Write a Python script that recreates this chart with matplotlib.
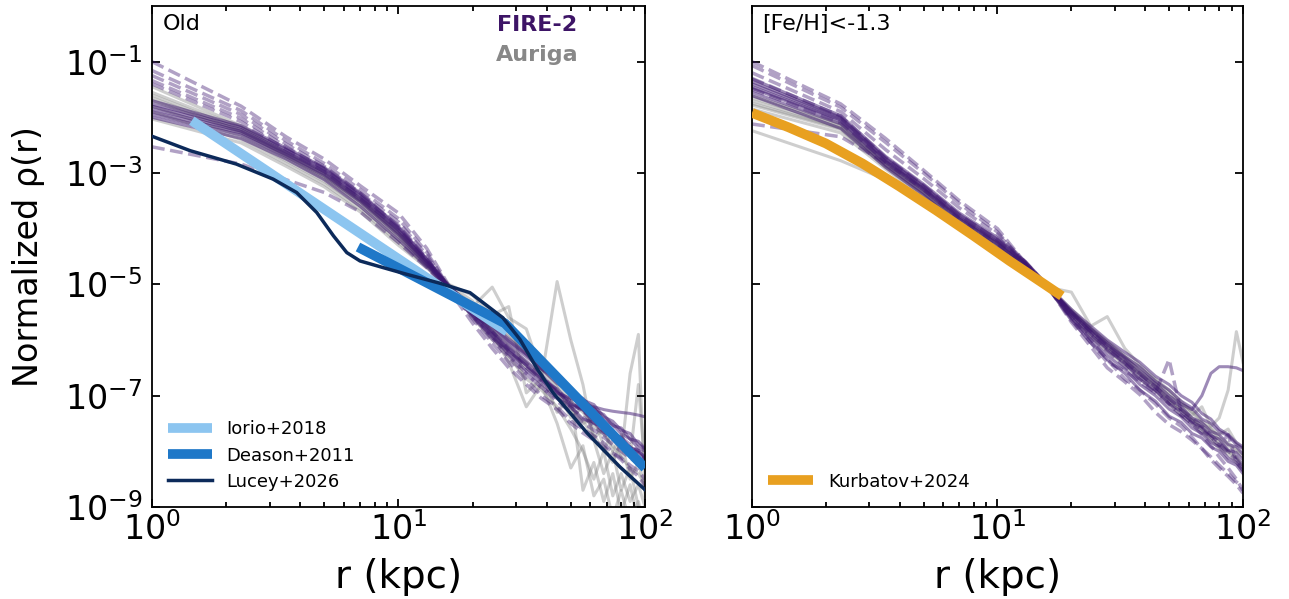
import numpy as np
import matplotlib
matplotlib.use("Agg")
import matplotlib.pyplot as plt

# ── data (log10 of normalized density on a common radial grid) ──────────────
r_grid = [1, 2.3, 3.5, 5, 7, 10, 13, 16, 20, 24, 28, 33, 38, 44, 50, 56,
          62, 68, 74, 80, 87, 94, 100]

# Old stars panel
old_fire_solid = [
    [-1.76, -2.18, -2.58, -2.92, -3.38, -3.98, -4.55, -5.05, -5.45, -5.78, -6.05, -6.30,
     -6.52, -6.78, -6.92, -7.14, -7.22, -7.44, -7.52, -7.68, -7.78, -7.94, -8.00],
    [-1.85, -2.25, -2.64, -2.98, -3.45, -4.04, -4.60, -5.06, -5.50, -5.85, -6.12, -6.38,
     -6.62, -6.95, -7.05, -7.15, -7.20, -7.25, -7.28, -7.30, -7.32, -7.35, -7.38],
    [-1.95, -2.32, -2.70, -3.05, -3.52, -4.12, -4.64, -5.08, -5.55, -5.92, -6.20, -6.45,
     -6.70, -6.88, -7.15, -7.24, -7.44, -7.52, -7.70, -7.74, -7.94, -7.98, -8.12],
    [-2.00, -2.38, -2.75, -3.12, -3.60, -4.20, -4.68, -5.10, -5.58, -5.95, -6.25, -6.55,
     -6.78, -7.04, -7.20, -7.42, -7.48, -7.66, -7.72, -7.90, -7.92, -8.12, -8.20],
    [-1.80, -2.22, -2.62, -2.96, -3.42, -4.02, -4.58, -5.04, -5.40, -5.72, -5.98, -6.24,
     -6.42, -6.70, -6.86, -7.08, -7.16, -7.38, -7.46, -7.62, -7.68, -7.88, -7.95],
    [-1.90, -2.28, -2.67, -3.02, -3.49, -4.08, -4.62, -5.07, -5.52, -5.88, -6.18, -6.46,
     -6.72, -6.92, -7.18, -7.26, -7.50, -7.56, -7.76, -7.80, -7.98, -8.02, -8.15],
    [-1.70, -2.15, -2.55, -2.90, -3.36, -3.96, -4.54, -5.03, -5.42, -5.75, -6.02, -6.26,
     -6.52, -6.70, -6.94, -7.05, -7.25, -7.34, -7.54, -7.58, -7.78, -7.82, -7.95],
]
old_fire_dashed = [
    [-1.00, -1.80, -2.35, -2.75, -3.23, -3.72, -4.35, -5.02, -5.48, -5.85, -6.15, -6.42,
     -6.65, -6.90, -7.10, -7.25, -7.40, -7.52, -7.65, -7.75, -7.88, -8.00, -8.10],
    [-1.16, -1.88, -2.42, -2.83, -3.30, -3.82, -4.42, -5.05, -5.55, -5.95, -6.28, -6.60,
     -6.85, -7.10, -7.30, -7.48, -7.62, -7.75, -7.88, -8.00, -8.12, -8.22, -8.35],
    [-1.25, -1.95, -2.48, -2.88, -3.36, -3.88, -4.47, -5.05, -5.62, -6.05, -6.40, -6.71,
     -7.00, -7.20, -7.45, -7.60, -7.72, -7.85, -8.03, -8.15, -8.32, -8.45, -8.62],
    [-1.34, -2.02, -2.53, -2.93, -3.42, -3.94, -4.52, -5.06, -5.50, -5.85, -6.18, -6.50,
     -6.72, -6.95, -7.12, -7.28, -7.42, -7.55, -7.68, -7.80, -7.92, -8.02, -8.12],
    [-2.53, -2.84, -3.12, -3.35, -3.70, -4.25, -4.70, -5.10, -5.70, -6.15, -6.50, -6.80,
     -7.05, -7.25, -7.50, -7.67, -7.80, -7.92, -8.03, -8.12, -8.25, -8.35, -8.50],
    [-1.40, -2.08, -2.58, -2.98, -3.46, -4.00, -4.56, -5.05, -5.58, -5.98, -6.32, -6.62,
     -6.85, -7.05, -7.22, -7.38, -7.55, -7.68, -7.80, -7.92, -8.05, -8.20, -8.30],
]
old_auriga = [
    [-1.45, -2.15, -2.62, -3.00, -3.45, -4.05, -4.58, -5.00, -5.20, -5.55, -5.40, -6.95,
     -6.70, -4.95, -6.00, -6.80, -7.80, -8.40, -8.00, -8.70, -8.30, -9.00, -9.20],
    [-1.60, -2.22, -2.68, -3.06, -3.50, -4.10, -4.62, -5.02, -5.40, -5.05, -5.60, -5.80,
     -6.60, -7.30, -7.00, -8.70, -8.20, -8.90, -8.40, -9.10, -8.60, -9.30, -9.50],
    [-1.70, -2.28, -2.73, -3.10, -3.55, -4.15, -4.64, -5.03, -5.60, -6.00, -6.20, -6.50,
     -6.70, -6.90, -7.40, -7.20, -7.70, -8.00, -7.60, -8.10, -6.60, -5.90, -8.80],
    [-1.80, -2.34, -2.78, -3.15, -3.60, -4.20, -4.66, -5.04, -5.50, -5.80, -6.30, -6.70,
     -6.90, -7.20, -7.60, -8.00, -8.50, -8.00, -8.80, -8.40, -8.90, -8.60, -9.00],
    [-1.90, -2.40, -2.83, -3.20, -3.65, -4.25, -4.68, -5.05, -5.45, -5.70, -5.95, -6.20,
     -6.50, -6.80, -7.10, -7.30, -7.55, -7.70, -7.90, -8.10, -8.30, -8.40, -8.60],
    [-2.03, -2.46, -2.88, -3.25, -3.70, -4.30, -4.70, -5.06, -5.35, -5.65, -5.90, -6.25,
     -6.55, -6.85, -7.25, -7.50, -7.40, -7.90, -8.20, -7.80, -8.50, -8.20, -8.70],
    [-1.55, -2.18, -2.65, -3.03, -3.48, -4.08, -4.60, -5.01, -5.30, -5.90, -6.40, -7.20,
     -6.80, -7.50, -8.30, -7.90, -8.80, -8.50, -9.20, -8.70, -9.30, -8.90, -9.40],
    [-1.65, -2.25, -2.70, -3.08, -3.52, -4.12, -4.63, -5.02, -5.50, -5.80, -6.10, -6.40,
     -6.65, -6.95, -7.20, -7.45, -7.75, -7.60, -8.00, -7.70, -8.10, -6.80, -8.30],
]

# Metal-poor panel
mp_fire_solid = [
    [-1.31, -1.97, -2.70, -3.20, -3.72, -4.16, -4.59, -5.02, -5.45, -5.75, -6.00, -6.22,
     -6.40, -6.65, -6.80, -7.00, -7.12, -7.32, -7.42, -7.60, -7.70, -7.84, -7.92],
    [-1.40, -2.02, -2.75, -3.25, -3.78, -4.22, -4.62, -5.03, -5.50, -5.82, -6.08, -6.32,
     -6.55, -6.78, -7.00, -7.15, -7.25, -7.00, -6.60, -6.48, -6.48, -6.50, -6.55],
    [-1.48, -2.07, -2.80, -3.30, -3.83, -4.27, -4.66, -5.04, -5.55, -5.90, -6.18, -6.42,
     -6.70, -6.90, -7.14, -7.28, -7.48, -7.56, -7.72, -7.78, -7.98, -8.02, -8.15],
    [-1.55, -2.12, -2.86, -3.36, -3.90, -4.32, -4.70, -5.04, -5.60, -5.98, -6.28, -6.52,
     -6.80, -7.00, -7.24, -7.38, -7.58, -7.68, -7.84, -7.92, -8.12, -8.20, -8.35],
    [-1.36, -2.00, -2.73, -3.23, -3.75, -4.19, -4.60, -5.03, -5.48, -5.80, -6.05, -6.30,
     -6.48, -6.74, -6.90, -7.10, -7.22, -7.42, -7.50, -7.64, -7.72, -7.88, -7.95],
    [-1.61, -2.20, -2.90, -3.40, -3.94, -4.36, -4.73, -5.05, -5.65, -6.05, -6.35, -6.60,
     -6.90, -7.10, -7.37, -7.48, -7.68, -7.76, -7.92, -8.00, -8.18, -8.25, -8.40],
    [-1.45, -2.05, -2.78, -3.28, -3.80, -4.24, -4.64, -5.03, -5.52, -5.85, -6.12, -6.36,
     -6.62, -6.83, -7.07, -7.20, -7.40, -7.48, -7.64, -7.70, -7.88, -7.92, -8.05],
]
mp_fire_dashed = [
    [-1.00, -1.76, -2.38, -2.95, -3.50, -4.00, -4.62, -5.05, -5.58, -5.92, -6.20, -6.48,
     -6.72, -6.95, -7.15, -7.35, -7.50, -7.62, -7.75, -7.88, -8.02, -8.15, -8.30],
    [-1.07, -1.82, -2.45, -3.00, -3.55, -4.06, -4.64, -5.05, -5.50, -5.85, -6.10, -6.40,
     -6.60, -6.85, -7.05, -7.25, -7.40, -7.55, -7.70, -7.85, -8.00, -8.10, -8.25],
    [-1.30, -1.98, -2.72, -3.22, -3.75, -4.20, -4.62, -5.03, -5.68, -6.12, -6.50, -6.75,
     -6.98, -7.30, -7.52, -7.65, -7.80, -7.95, -8.15, -8.30, -8.45, -8.60, -8.75],
    [-2.12, -2.35, -2.82, -3.30, -3.82, -4.26, -4.66, -5.05, -5.60, -6.00, -6.35, -6.70,
     -6.90, -7.15, -7.40, -7.55, -7.75, -7.95, -8.10, -8.25, -8.40, -8.55, -8.65],
    [-1.50, -2.10, -2.80, -3.30, -3.83, -4.28, -4.66, -5.04, -5.62, -6.05, -6.40, -6.55,
     -6.75, -6.95, -6.35, -7.30, -7.45, -7.60, -7.75, -7.90, -7.70, -8.20, -8.30],
    [-1.20, -1.90, -2.58, -3.10, -3.63, -4.10, -4.60, -5.03, -5.52, -5.88, -6.15, -6.42,
     -6.65, -6.90, -7.15, -7.35, -7.50, -7.70, -7.90, -8.10, -8.30, -8.50, -8.70],
]
mp_auriga = [
    [-1.61, -2.12, -2.80, -3.28, -3.82, -4.25, -4.66, -5.05, -5.14, -5.75, -5.58, -6.15,
     -6.45, -6.70, -6.90, -7.10, -7.30, -7.50, -7.60, -7.75, -7.85, -7.95, -8.05],
    [-1.70, -2.18, -2.85, -3.34, -3.87, -4.29, -4.68, -5.05, -5.50, -5.80, -6.05, -6.30,
     -6.55, -6.78, -7.00, -7.18, -7.35, -7.20, -7.55, -7.40, -6.90, -5.85, -6.40],
    [-1.78, -2.22, -2.89, -3.38, -3.91, -4.33, -4.69, -5.06, -5.55, -5.90, -6.15, -6.40,
     -6.62, -6.85, -7.08, -7.25, -7.40, -7.55, -7.65, -7.80, -7.90, -8.00, -8.10],
    [-1.85, -2.28, -2.93, -3.43, -3.95, -4.37, -4.70, -5.06, -5.45, -5.78, -6.02, -6.28,
     -6.50, -6.72, -6.95, -7.15, -7.28, -7.45, -7.58, -7.70, -7.60, -7.85, -7.95],
    [-2.24, -2.78, -3.12, -3.50, -3.96, -4.40, -4.73, -5.07, -5.60, -5.95, -6.20, -6.45,
     -6.70, -6.92, -7.15, -7.35, -7.50, -7.65, -7.80, -7.95, -8.05, -8.20, -8.35],
    [-1.65, -2.15, -2.83, -3.31, -3.85, -4.27, -4.67, -5.05, -5.48, -5.82, -6.08, -6.35,
     -6.58, -6.80, -7.05, -7.25, -7.42, -7.58, -7.72, -7.85, -7.98, -8.10, -8.25],
    [-1.75, -2.20, -2.87, -3.36, -3.89, -4.31, -4.68, -5.06, -5.52, -5.85, -6.12, -6.38,
     -6.62, -6.85, -7.10, -7.28, -7.45, -7.60, -7.75, -7.90, -8.00, -8.12, -8.30],
]

# Observational fits
iorio_r = [1.45, 27.6]
iorio_logrho = [-2.06, -5.85]
deason_r = [6.85, 27.0, 100]
deason_logrho = [-4.33, -5.70, -8.30]
lucey_r = [1.0, 1.43, 2.2, 3.1, 3.86, 4.66, 5.45, 6.17, 6.98, 8.67, 10.8, 14.7, 19.5,
           26.5, 31.1, 36.3, 42.4, 58.2, 79.1, 100]
lucey_logrho = [-2.34, -2.60, -2.84, -3.11, -3.35, -3.71, -4.13, -4.43, -4.58, -4.70, -4.82,
                -4.98, -5.15, -5.60, -5.99, -6.50, -6.95, -7.67, -8.28, -8.69]
kurbatov_r = [1.0, 1.41, 2.0, 2.82, 3.98, 5.62, 7.94, 11.2, 15.8, 18.3]
kurbatov_logrho = [-1.92, -2.18, -2.47, -2.83, -3.24, -3.67, -4.12, -4.58, -5.02, -5.21]

# ── styling ───────────────────────────────────────────────────────────────────
FIRE_C = "#3d1670"
GREY_C = "#808080"
IORIO_C = "#8cc5f0"
DEASON_C = "#1f78c8"
LUCEY_C = "#0c2a5a"
KURB_C = "#e8a020"
TICK_FS = 24

plt.rcParams["font.family"] = "DejaVu Sans"
fig = plt.figure(figsize=(12.89, 5.99), dpi=100)
ax1 = fig.add_axes([0.1179, 0.1536, 0.3825, 0.8364])
ax2 = fig.add_axes([0.5834, 0.1536, 0.3809, 0.8364])


def draw_sims(ax, solid, dashed, auriga):
    for lr in auriga:
        ax.plot(r_grid, 10 ** np.array(lr), color=GREY_C, alpha=0.38, lw=2.2, zorder=1)
    for lr in solid:
        ax.plot(r_grid, 10 ** np.array(lr), color=FIRE_C, alpha=0.5, lw=2.2, zorder=2)
    for lr in dashed:
        ax.plot(r_grid, 10 ** np.array(lr), color=FIRE_C, alpha=0.4, lw=2.5,
                ls="--", zorder=2)


def style_axes(ax, left_labels=True):
    ax.set_xscale("log")
    ax.set_yscale("log")
    ax.set_xlim(1, 100)
    ax.set_ylim(1e-9, 1e0)
    ax.set_yticks([1e-9, 1e-7, 1e-5, 1e-3, 1e-1])
    ax.yaxis.set_minor_locator(matplotlib.ticker.NullLocator())
    ax.tick_params(which="both", direction="in", top=True, right=True,
                   labelsize=TICK_FS, width=1.3)
    ax.tick_params(which="major", length=6)
    ax.tick_params(which="minor", length=3.5)
    ax.tick_params(axis="x", pad=4)
    ax.tick_params(axis="y", pad=7)
    for s in ax.spines.values():
        s.set_linewidth(1.3)
    if not left_labels:
        ax.tick_params(labelleft=False)
    ax.set_xlabel("r (kpc)", fontsize=28, labelpad=8)


# left panel: old stars
draw_sims(ax1, old_fire_solid, old_fire_dashed, old_auriga)
ax1.plot(iorio_r, 10 ** np.array(iorio_logrho), color=IORIO_C, lw=7,
         solid_capstyle="butt", zorder=4, label="Iorio+2018")
ax1.plot(deason_r, 10 ** np.array(deason_logrho), color=DEASON_C, lw=7,
         solid_capstyle="butt", zorder=5, label="Deason+2011")
ax1.plot(lucey_r, 10 ** np.array(lucey_logrho), color=LUCEY_C, lw=2.5,
         zorder=6, label="Lucey+2026")
style_axes(ax1)
ax1.set_ylabel("Normalized ρ(r)", fontsize=TICK_FS, labelpad=14)
ax1.text(0.022, 0.965, "Old", transform=ax1.transAxes, fontsize=16,
         ha="left", va="center")
ax1.text(0.781, 0.962, "FIRE-2", transform=ax1.transAxes, fontsize=16,
         fontweight="bold", color="#3d1466", ha="center", va="center")
ax1.text(0.781, 0.902, "Auriga", transform=ax1.transAxes, fontsize=16,
         fontweight="bold", color="#888888", ha="center", va="center")
ax1.legend(loc="lower left", frameon=False, fontsize=13, handlelength=2.4,
           labelspacing=0.45)

# right panel: metal-poor stars
draw_sims(ax2, mp_fire_solid, mp_fire_dashed, mp_auriga)
ax2.plot(kurbatov_r, 10 ** np.array(kurbatov_logrho), color=KURB_C, lw=7,
         solid_capstyle="butt", zorder=5, label="Kurbatov+2024")
style_axes(ax2, left_labels=False)
ax2.text(0.02, 0.965, "[Fe/H]<-1.3", transform=ax2.transAxes, fontsize=16,
         ha="left", va="center")
ax2.legend(loc="lower left", frameon=False, fontsize=13, handlelength=2.5)

fig.savefig("out.png", dpi=100)
